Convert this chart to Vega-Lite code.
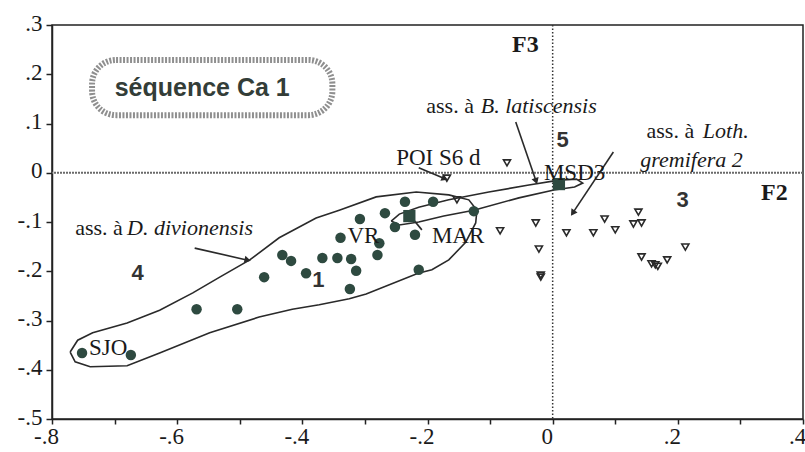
{
  "$schema": "https://vega.github.io/schema/vega-lite/v6.json",
  "width": 751,
  "height": 394,
  "autosize": {"type": "none"},
  "padding": {"left": 52, "top": 25, "right": 2, "bottom": 33},
  "background": "white",
  "config": {
    "view": {"stroke": "#222222", "strokeWidth": 1.5},
    "axis": {
      "grid": false,
      "labelFont": "Liberation Serif", "labelFontSize": 23, "labelColor": "#1a1a1a",
      "labelFlush": false, "labelOverlap": false,
      "tickColor": "#222222", "tickWidth": 1.5, "tickSize": 5,
      "domainColor": "#222222", "domainWidth": 1.5
    }
  },
  "datasets": {
    "circles": [
      {"x": -0.752, "y": -0.366}, {"x": -0.674, "y": -0.370}, {"x": -0.569, "y": -0.277},
      {"x": -0.504, "y": -0.277}, {"x": -0.461, "y": -0.212}, {"x": -0.432, "y": -0.167},
      {"x": -0.418, "y": -0.179}, {"x": -0.394, "y": -0.204}, {"x": -0.368, "y": -0.173},
      {"x": -0.344, "y": -0.173}, {"x": -0.339, "y": -0.132}, {"x": -0.322, "y": -0.175},
      {"x": -0.314, "y": -0.199}, {"x": -0.324, "y": -0.236}, {"x": -0.308, "y": -0.094},
      {"x": -0.277, "y": -0.143}, {"x": -0.280, "y": -0.167}, {"x": -0.268, "y": -0.082},
      {"x": -0.252, "y": -0.110}, {"x": -0.236, "y": -0.059}, {"x": -0.220, "y": -0.126},
      {"x": -0.214, "y": -0.197}, {"x": -0.191, "y": -0.059}, {"x": -0.126, "y": -0.078}
    ],
    "squares": [
      {"x": -0.229, "y": -0.088}, {"x": 0.010, "y": -0.023}
    ],
    "triangles": [
      {"x": -0.169, "y": -0.011}, {"x": -0.073, "y": 0.020}, {"x": -0.153, "y": -0.055},
      {"x": -0.084, "y": -0.118}, {"x": -0.027, "y": -0.102}, {"x": -0.022, "y": -0.155},
      {"x": -0.019, "y": -0.212}, {"x": -0.019, "y": -0.208}, {"x": 0.022, "y": -0.122}, {"x": 0.065, "y": -0.122},
      {"x": 0.083, "y": -0.094}, {"x": 0.100, "y": -0.116}, {"x": 0.129, "y": -0.104},
      {"x": 0.142, "y": -0.102}, {"x": 0.137, "y": -0.080}, {"x": 0.142, "y": -0.171},
      {"x": 0.164, "y": -0.187}, {"x": 0.158, "y": -0.185}, {"x": 0.168, "y": -0.190},
      {"x": 0.183, "y": -0.177}, {"x": 0.212, "y": -0.151}
    ],
    "outlines": [
      {"grp": "D", "o": 1, "x": -0.771, "y": -0.364}, {"grp": "D", "o": 2, "x": -0.759, "y": -0.340},
      {"grp": "D", "o": 3, "x": -0.735, "y": -0.325}, {"grp": "D", "o": 4, "x": -0.680, "y": -0.305},
      {"grp": "D", "o": 5, "x": -0.628, "y": -0.279}, {"grp": "D", "o": 6, "x": -0.575, "y": -0.244},
      {"grp": "D", "o": 7, "x": -0.532, "y": -0.212}, {"grp": "D", "o": 8, "x": -0.484, "y": -0.177},
      {"grp": "D", "o": 9, "x": -0.437, "y": -0.132}, {"grp": "D", "o": 10, "x": -0.378, "y": -0.092},
      {"grp": "D", "o": 11, "x": -0.341, "y": -0.076}, {"grp": "D", "o": 12, "x": -0.282, "y": -0.049},
      {"grp": "D", "o": 13, "x": -0.218, "y": -0.039}, {"grp": "D", "o": 14, "x": -0.166, "y": -0.045},
      {"grp": "D", "o": 15, "x": -0.134, "y": -0.055}, {"grp": "D", "o": 16, "x": -0.121, "y": -0.076},
      {"grp": "D", "o": 17, "x": -0.123, "y": -0.102}, {"grp": "D", "o": 18, "x": -0.139, "y": -0.141},
      {"grp": "D", "o": 19, "x": -0.166, "y": -0.177}, {"grp": "D", "o": 20, "x": -0.193, "y": -0.197},
      {"grp": "D", "o": 21, "x": -0.215, "y": -0.204}, {"grp": "D", "o": 22, "x": -0.298, "y": -0.246},
      {"grp": "D", "o": 23, "x": -0.325, "y": -0.256}, {"grp": "D", "o": 24, "x": -0.373, "y": -0.268},
      {"grp": "D", "o": 25, "x": -0.416, "y": -0.277}, {"grp": "D", "o": 26, "x": -0.469, "y": -0.293},
      {"grp": "D", "o": 27, "x": -0.548, "y": -0.325}, {"grp": "D", "o": 28, "x": -0.628, "y": -0.366},
      {"grp": "D", "o": 29, "x": -0.680, "y": -0.392}, {"grp": "D", "o": 30, "x": -0.739, "y": -0.394},
      {"grp": "D", "o": 31, "x": -0.763, "y": -0.384}, {"grp": "D", "o": 32, "x": -0.771, "y": -0.364},
      {"grp": "B", "o": 1, "x": -0.258, "y": -0.098}, {"grp": "B", "o": 2, "x": -0.245, "y": -0.084},
      {"grp": "B", "o": 3, "x": -0.214, "y": -0.070}, {"grp": "B", "o": 4, "x": -0.166, "y": -0.055},
      {"grp": "B", "o": 5, "x": -0.102, "y": -0.039}, {"grp": "B", "o": 6, "x": -0.038, "y": -0.025},
      {"grp": "B", "o": 7, "x": 0.010, "y": -0.015}, {"grp": "B", "o": 8, "x": 0.038, "y": -0.013},
      {"grp": "B", "o": 9, "x": 0.048, "y": -0.021}, {"grp": "B", "o": 10, "x": 0.035, "y": -0.029},
      {"grp": "B", "o": 11, "x": 0.002, "y": -0.035}, {"grp": "B", "o": 12, "x": -0.054, "y": -0.051},
      {"grp": "B", "o": 13, "x": -0.126, "y": -0.076}, {"grp": "B", "o": 14, "x": -0.174, "y": -0.088},
      {"grp": "B", "o": 15, "x": -0.214, "y": -0.100}, {"grp": "B", "o": 16, "x": -0.245, "y": -0.106},
      {"grp": "B", "o": 17, "x": -0.258, "y": -0.098}
    ],
    "arrows": [
      {"x": -0.572, "y": -0.153, "x2": -0.489, "y2": -0.177, "head": true},
      {"x": -0.059, "y": 0.103, "x2": -0.027, "y2": -0.015, "head": true},
      {"x": 0.097, "y": 0.042, "x2": 0.033, "y2": -0.080, "head": true},
      {"x": -0.214, "y": 0.010, "x2": -0.174, "y2": -0.011, "head": true},
      {"x": -0.209, "y": -0.116, "x2": -0.226, "y2": -0.090, "head": false}
    ],
    "texts": [
      {"role": "lab", "x": -0.741, "y": -0.370, "t": "SJO"},
      {"role": "lab", "x": -0.328, "y": -0.143, "t": "VR"},
      {"role": "lab", "x": -0.193, "y": -0.143, "t": "MAR"},
      {"role": "lab", "x": -0.250, "y": 0.016, "t": "POI S6 d"},
      {"role": "lab", "x": -0.014, "y": -0.015, "t": "MSD3"},
      {"role": "ass", "x": -0.202, "y": 0.121, "t": "ass. à"},
      {"role": "ass", "x": 0.150, "y": 0.071, "t": "ass. à"},
      {"role": "ass", "x": -0.763, "y": -0.126, "t": "ass. à"},
      {"role": "tax", "x": -0.115, "y": 0.121, "t": "B. latiscensis"},
      {"role": "tax", "x": 0.240, "y": 0.071, "t": "Loth."},
      {"role": "tax", "x": 0.140, "y": 0.012, "t": "gremifera  2"},
      {"role": "tax", "x": -0.680, "y": -0.126, "t": "D. divionensis"},
      {"role": "axn", "x": -0.065, "y": 0.245, "t": "F3"},
      {"role": "axn", "x": 0.333, "y": -0.055, "t": "F2"},
      {"role": "num", "x": 0.006, "y": 0.052, "t": "5"},
      {"role": "num", "x": 0.198, "y": -0.070, "t": "3"},
      {"role": "num", "x": -0.673, "y": -0.218, "t": "4"},
      {"role": "num", "x": -0.384, "y": -0.232, "t": "1"},
      {"role": "title", "x": -0.560, "y": 0.172, "t": "séquence Ca 1"}
    ],
    "box": [{"x": -0.736, "x2": -0.352, "y": 0.229, "y2": 0.117}],
    "zero": [{"x": 0, "y": 0}]
  },
  "layer": [
    {
      "data": {"name": "box"},
      "mark": {"type": "rect", "fill": null, "stroke": "#8f8f8f", "strokeWidth": 6, "strokeDash": [2, 1.5], "cornerRadius": 24},
      "encoding": {
        "x": {"field": "x", "type": "quantitative", "scale": {"domain": [-0.8, 0.4], "nice": false, "zero": false},
          "axis": {"orient": "bottom", "title": null, "values": [-0.8, -0.7, -0.6, -0.5, -0.4, -0.3, -0.2, -0.1, 0, 0.1, 0.2, 0.3, 0.4],
            "labelExpr": "abs(round(datum.value*10)) % 2 == 1 ? '' : (datum.value == 0 ? '0' : (datum.value < 0 ? '-' : '') + '.' + round(abs(datum.value)*10))",
            "labelFont": "Liberation Serif", "labelFontSize": 23,
            "labelOffset": -6, "labelPadding": 1}},
        "x2": {"field": "x2"},
        "y": {"field": "y", "type": "quantitative", "scale": {"domain": [-0.5, 0.3], "nice": false, "zero": false},
          "axis": {"orient": "left", "title": null, "values": [-0.5, -0.45, -0.4, -0.35, -0.3, -0.25, -0.2, -0.15, -0.1, -0.05, 0, 0.05, 0.1, 0.15, 0.2, 0.25, 0.3],
            "labelExpr": "abs(round(datum.value*20)) % 2 == 1 ? '' : (datum.value == 0 ? '0' : (datum.value < 0 ? '-' : '') + '.' + round(abs(datum.value)*10))",
            "labelFont": "Liberation Serif", "labelFontSize": 23,
            "labelPadding": 4, "labelOffset": -2,
            "tickSize": {"condition": {"test": "abs(round(datum.value*20)) % 2 == 1", "value": 3}, "value": 6}}},
        "y2": {"field": "y2"}
      }
    },
    {
      "data": {"name": "zero"},
      "mark": {"type": "rule", "stroke": "#6a6a6a", "strokeWidth": 2, "strokeDash": [2, 1]},
      "encoding": {"y": {"field": "y", "type": "quantitative"}}
    },
    {
      "data": {"name": "zero"},
      "mark": {"type": "rule", "stroke": "#333333", "strokeWidth": 1.5, "strokeDash": [1.5, 2]},
      "encoding": {"x": {"field": "x", "type": "quantitative"}}
    },
    {
      "data": {"name": "outlines"},
      "mark": {"type": "line", "stroke": "#2a2a2a", "strokeWidth": 1.6, "interpolate": "linear"},
      "encoding": {
        "x": {"field": "x", "type": "quantitative"},
        "y": {"field": "y", "type": "quantitative"},
        "detail": {"field": "grp"},
        "order": {"field": "o", "type": "quantitative"}
      }
    },
    {
      "data": {"name": "arrows"},
      "mark": {"type": "rule", "stroke": "#2a2a2a", "strokeWidth": 1.6},
      "encoding": {
        "x": {"field": "x", "type": "quantitative"}, "x2": {"field": "x2"},
        "y": {"field": "y", "type": "quantitative"}, "y2": {"field": "y2"}
      }
    },
    {
      "data": {"name": "arrows"},
      "transform": [
        {"filter": "datum.head"},
        {"calculate": "atan2((datum.x2 - datum.x) * 627.5, (datum.y2 - datum.y) * 492.5) * 180 / PI", "as": "ang"}
      ],
      "mark": {"type": "point", "shape": "triangle", "filled": true, "fill": "#2a2a2a", "size": 55, "opacity": 1},
      "encoding": {
        "x": {"field": "x2", "type": "quantitative"},
        "y": {"field": "y2", "type": "quantitative"},
        "angle": {"field": "ang", "type": "quantitative", "scale": null}
      }
    },
    {
      "data": {"name": "circles"},
      "mark": {"type": "circle", "fill": "#2e4a40", "size": 110, "opacity": 1},
      "encoding": {
        "x": {"field": "x", "type": "quantitative"},
        "y": {"field": "y", "type": "quantitative"}
      }
    },
    {
      "data": {"name": "squares"},
      "mark": {"type": "square", "fill": "#2e4a40", "size": 150, "opacity": 1},
      "encoding": {
        "x": {"field": "x", "type": "quantitative"},
        "y": {"field": "y", "type": "quantitative"}
      }
    },
    {
      "data": {"name": "triangles"},
      "mark": {"type": "point", "shape": "triangle-down", "filled": false, "stroke": "#2a2a2a", "strokeWidth": 1.6, "size": 50, "opacity": 1},
      "encoding": {
        "x": {"field": "x", "type": "quantitative"},
        "y": {"field": "y", "type": "quantitative"}
      }
    },
    {
      "data": {"name": "texts"},
      "transform": [{"filter": "datum.role == 'lab'"}],
      "mark": {"type": "text", "font": "Liberation Serif", "fontSize": 23, "align": "left", "baseline": "alphabetic", "fill": "#1a1a1a"},
      "encoding": {
        "x": {"field": "x", "type": "quantitative"},
        "y": {"field": "y", "type": "quantitative"},
        "text": {"field": "t"}
      }
    },
    {
      "data": {"name": "texts"},
      "transform": [{"filter": "datum.role == 'ass'"}],
      "mark": {"type": "text", "font": "Liberation Serif", "fontSize": 22, "align": "left", "baseline": "alphabetic", "fill": "#1a1a1a"},
      "encoding": {
        "x": {"field": "x", "type": "quantitative"},
        "y": {"field": "y", "type": "quantitative"},
        "text": {"field": "t"}
      }
    },
    {
      "data": {"name": "texts"},
      "transform": [{"filter": "datum.role == 'tax'"}],
      "mark": {"type": "text", "font": "Liberation Serif", "fontSize": 22, "fontStyle": "italic", "align": "left", "baseline": "alphabetic", "fill": "#1a1a1a"},
      "encoding": {
        "x": {"field": "x", "type": "quantitative"},
        "y": {"field": "y", "type": "quantitative"},
        "text": {"field": "t"}
      }
    },
    {
      "data": {"name": "texts"},
      "transform": [{"filter": "datum.role == 'axn'"}],
      "mark": {"type": "text", "font": "Liberation Serif", "fontSize": 24, "fontWeight": "bold", "align": "left", "baseline": "alphabetic", "fill": "#1a1a1a"},
      "encoding": {
        "x": {"field": "x", "type": "quantitative"},
        "y": {"field": "y", "type": "quantitative"},
        "text": {"field": "t"}
      }
    },
    {
      "data": {"name": "texts"},
      "transform": [{"filter": "datum.role == 'num'"}],
      "mark": {"type": "text", "font": "Liberation Sans", "fontSize": 22, "fontWeight": "bold", "align": "left", "baseline": "alphabetic", "fill": "#333333"},
      "encoding": {
        "x": {"field": "x", "type": "quantitative"},
        "y": {"field": "y", "type": "quantitative"},
        "text": {"field": "t"}
      }
    },
    {
      "data": {"name": "texts"},
      "transform": [{"filter": "datum.role == 'title'"}],
      "mark": {"type": "text", "font": "Liberation Sans", "fontSize": 25, "fontWeight": "bold", "align": "center", "baseline": "middle", "fill": "#333d38"},
      "encoding": {
        "x": {"field": "x", "type": "quantitative"},
        "y": {"field": "y", "type": "quantitative"},
        "text": {"field": "t"}
      }
    }
  ]
}
